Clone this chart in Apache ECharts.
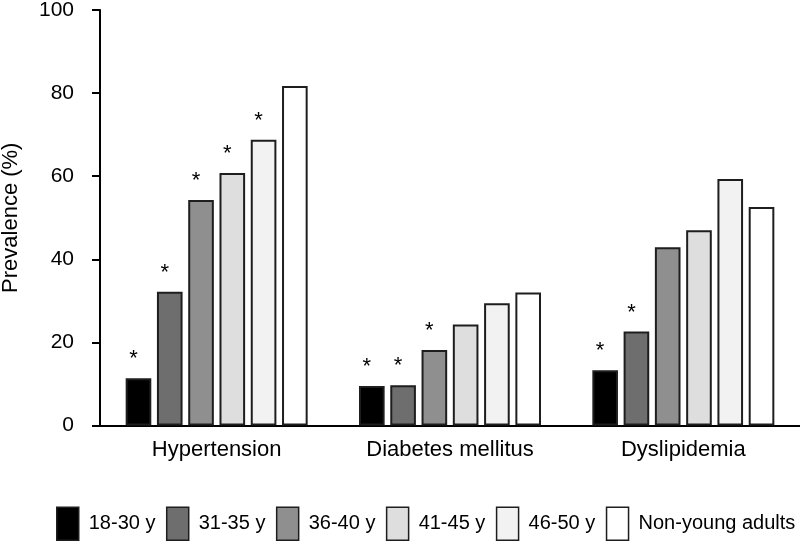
<!DOCTYPE html>
<html>
<head>
<meta charset="utf-8">
<script src="https://cdn.jsdelivr.net/npm/echarts@6/dist/echarts.min.js"></script>
<style>html,body{margin:0;padding:0;background:#fff}#c{width:800px;height:544px}</style>
</head>
<body>
<div id="c"></div>
<script>
var categories = ['Hypertension', 'Diabetes mellitus', 'Dyslipidemia'];
var groups = ['18-30 y', '31-35 y', '36-40 y', '41-45 y', '46-50 y', 'Non-young adults'];
var v18_30 = [11.4, 9.5, 13.3];
var v31_35 = [32.2, 9.7, 22.6];
var v36_40 = [54.3, 18.2, 42.9];
var v41_45 = [60.8, 24.3, 47.0];
var v46_50 = [68.8, 29.4, 59.3];
var vNonYoung = [81.7, 32.0, 52.6];
// significance markers (*) per group, per category
var sig18_30 = [true, true, true];
var sig31_35 = [true, true, true];
var sig36_40 = [true, true, false];
var sig41_45 = [true, false, false];
var sig46_50 = [true, false, false];
var sigNonYoung = [false, false, false];
var yTicks = [0, 20, 40, 60, 80, 100];

var values = [v18_30, v31_35, v36_40, v41_45, v46_50, vNonYoung];
var sigs = [sig18_30, sig31_35, sig36_40, sig41_45, sig46_50, sigNonYoung];
var colors = ['#000000', '#6e6e6e', '#8f8f8f', '#dedede', '#f2f2f2', '#ffffff'];
var FONT = '"Liberation Sans", Arial, Helvetica, sans-serif';

var series = groups.map(function (g, i) {
  return {
    name: g,
    type: 'bar',
    barGap: '22%',
    barCategoryGap: '22%',
    itemStyle: { color: colors[i], borderColor: '#1e1e1e', borderWidth: 2 },
    label: {
      position: 'top', distance: 8, offset: [-5, 0],
      formatter: '*', fontSize: 22, color: '#000', fontFamily: FONT
    },
    emphasis: { disabled: true },
    data: values[i].map(function (v, j) {
      return { value: v, label: { show: sigs[i][j] } };
    })
  };
});

var chart = echarts.init(document.getElementById('c'), null, { renderer: 'canvas' });
chart.setOption({
  animation: false,
  backgroundColor: '#ffffff',
  textStyle: { fontFamily: FONT },
  grid: { left: 100, right: 0, top: 10, bottom: 118.5, containLabel: false, outerBoundsMode: 'none' },
  legend: {
    data: groups.map(function (g, i) {
      return { name: g, itemStyle: { color: colors[i], borderColor: '#1e1e1e', borderWidth: 1.5 } };
    }),
    bottom: 3,
    left: 56,
    width: 744,
    padding: 0,
    orient: 'horizontal',
    icon: 'rect',
    itemWidth: 22,
    itemHeight: 33,
    itemGap: 10.5,
    textStyle: { fontSize: 20, color: '#000', fontFamily: FONT, padding: [0, 0, 0, 5] },
    selectedMode: false
  },
  xAxis: {
    type: 'category',
    data: categories,
    axisLine: { lineStyle: { color: '#000', width: 2 } },
    axisTick: { show: false },
    axisLabel: { fontSize: 22, color: '#000', margin: 13, fontFamily: FONT }
  },
  yAxis: {
    type: 'value',
    min: yTicks[0],
    max: yTicks[yTicks.length - 1],
    interval: yTicks[1] - yTicks[0],
    name: 'Prevalence (%)',
    nameLocation: 'middle',
    nameGap: 78,
    nameRotate: 90,
    nameTextStyle: { fontSize: 22, color: '#000', fontFamily: FONT },
    splitLine: { show: false },
    axisLine: { show: true, lineStyle: { color: '#000', width: 2 } },
    axisTick: { show: true, inside: false, length: 8, lineStyle: { color: '#000', width: 2 } },
    axisLabel: { fontSize: 21, color: '#000', margin: 26, fontFamily: FONT }
  },
  series: series
});
</script>
</body>
</html>
